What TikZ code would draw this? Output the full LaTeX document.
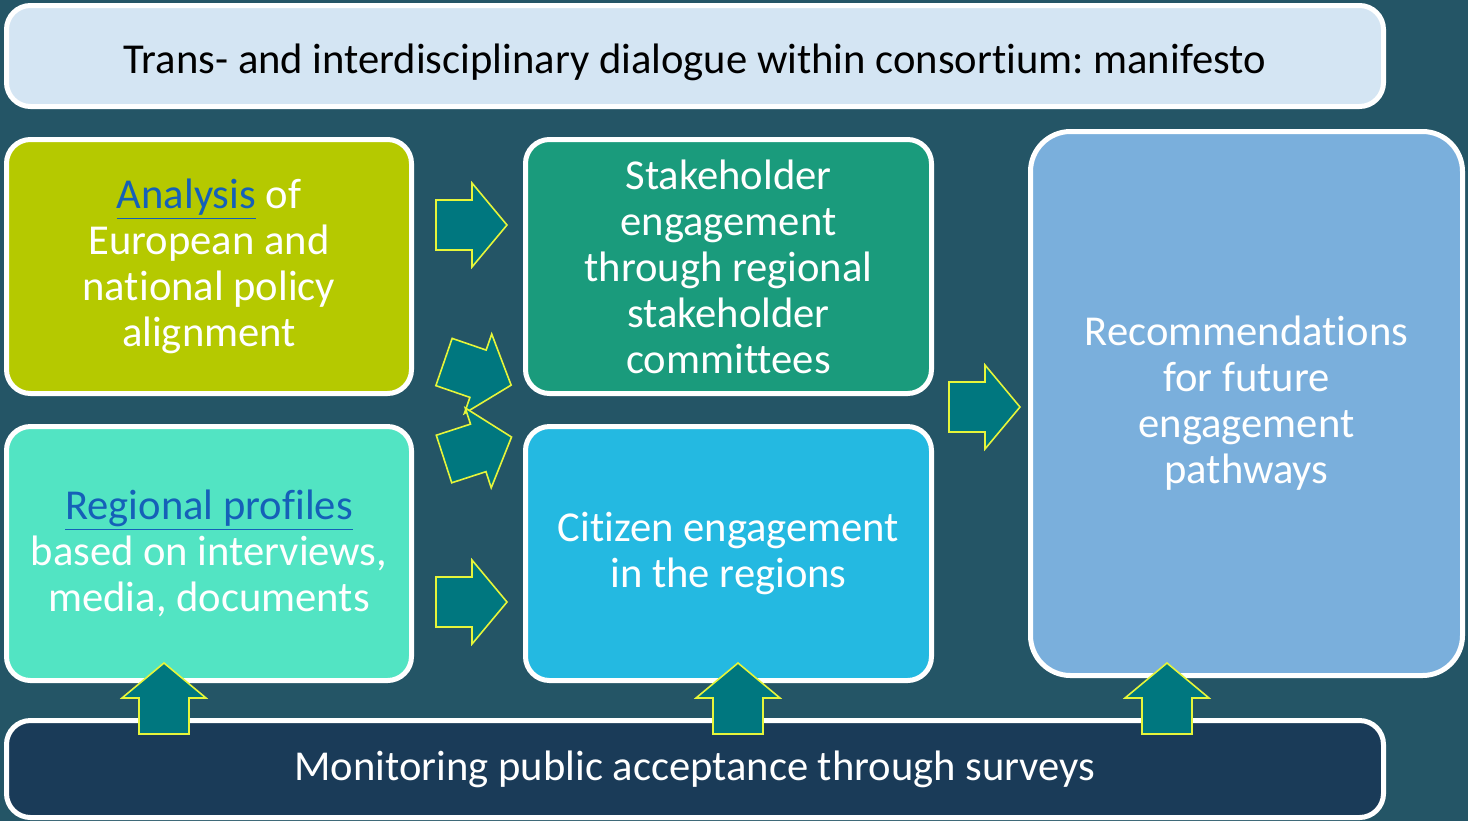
\documentclass[tikz,border=0pt]{standalone}
\usepackage{fontspec}
\setmainfont{Carlito}[Ligatures=NoCommon]
\frenchspacing
\usetikzlibrary{positioning}
\definecolor{bgslate}{HTML}{245566}
\definecolor{manifestoblue}{HTML}{D4E5F3}
\definecolor{policygreen}{HTML}{B5C900}
\definecolor{profilemint}{HTML}{52E4C3}
\definecolor{stakeholderteal}{HTML}{1A9B7C}
\definecolor{citizencyan}{HTML}{24B9E1}
\definecolor{recomblue}{HTML}{7AAFDC}
\definecolor{surveynavy}{HTML}{1A3B58}
\definecolor{arrowteal}{HTML}{00777F}
\definecolor{arrowyellow}{HTML}{E6F53A}
\definecolor{linkblue}{HTML}{1560B8}
\newcommand{\linkword}[1]{\textcolor{linkblue}{\underline{#1}}}
\newcommand{\tI}{t\kern0pt i}
\tikzset{
  panel/.style={draw=white, line width=2.5pt, rounded corners=12pt, align=center,
    text=white, font=\fontsize{21.3}{23}\selectfont, inner sep=0pt},
  blockarrow/.pic={
    \draw[fill=arrowteal, draw=arrowyellow, line width=0.8pt]
      (0,-25) -- (36,-25) -- (36,-42) -- (71,0) -- (36,42) -- (36,25) -- (0,25) -- cycle;
  }
}
\begin{document}
\begin{tikzpicture}[x=0.5pt,y=-0.5pt]
\fill[bgslate] (0,0) rectangle (1468,821);
\useasboundingbox (0,0) rectangle (1468,821);
\node[panel, fill=manifestoblue, text=black, text height=17pt, text depth=0pt, minimum width=688.5pt, minimum height=50.5pt] (manifesto) at (695,56) {Trans- and interdisciplinary dialogue within consor\tI um: manifesto};
\node[panel, fill=policygreen, minimum width=202.5pt, minimum height=127pt] (policy) at (209,266.5) {\linkword{Analysis} of\\European and\\national policy\\alignment};
\node[panel, fill=profilemint, minimum width=202.5pt, minimum height=127pt] (profiles) at (209,553.5) {\linkword{Regional profiles}\\based on interviews,\\media, documents};
\node[panel, fill=stakeholderteal, minimum width=203pt, minimum height=127pt] (stakeholder) at (728.5,266.5) {Stakeholder\\engagement\\through regional\\stakeholder\\commi\kern0pt ttees};
\node[panel, fill=citizencyan, minimum width=203pt, minimum height=127pt] (citizen) at (728.5,553.5) {Citizen engagement\\in the regions};
\node[panel, fill=recomblue, rounded corners=20pt, minimum width=216pt, minimum height=272pt] (recom) at (1246.5,403.5) {Recommenda\tI ons\\for future\\engagement\\pathways};
\node[panel, fill=surveynavy, minimum width=688.5pt, minimum height=48.5pt] (survey) at (695,769) {Monitoring public acceptance through surveys};
\pic at (436,225) {blockarrow};
\pic[rotate=-19] at (444,362) {blockarrow};
\pic[rotate=18] at (444,459) {blockarrow};
\pic at (436,602) {blockarrow};
\pic at (949,407) {blockarrow};
\pic[rotate=90] at (164,734) {blockarrow};
\pic[rotate=90] at (738,734) {blockarrow};
\pic[rotate=90] at (1167,734) {blockarrow};
\end{tikzpicture}
\end{document}
